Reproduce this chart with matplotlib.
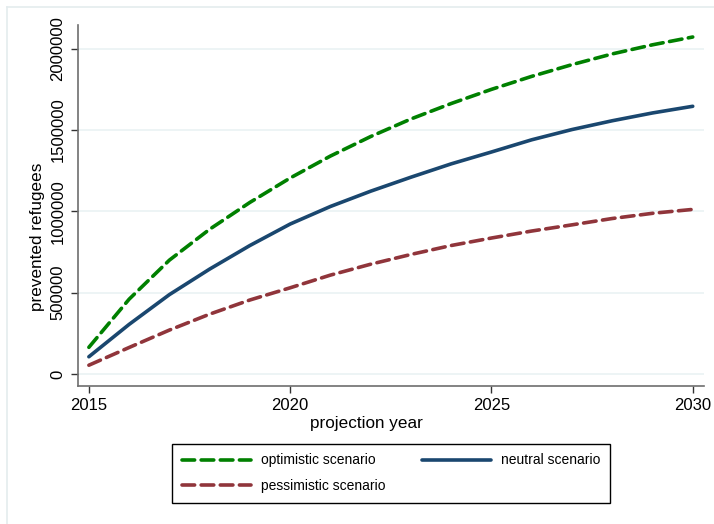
import matplotlib
matplotlib.use('Agg')
import matplotlib.pyplot as plt
from matplotlib.lines import Line2D

plt.rcParams['font.family'] = ['Liberation Sans', 'DejaVu Sans']

years = list(range(2015, 2031))
optimistic = [164000, 460000, 700000, 890000, 1055000, 1205000, 1340000, 1460000,
              1568000, 1663000, 1750000, 1830000, 1902000, 1968000, 2024000, 2072000]
neutral = [106000, 305000, 488000, 645000, 790000, 922000, 1030000, 1124000,
           1210000, 1292000, 1365000, 1440000, 1503000, 1557000, 1605000, 1646000]
pessimistic = [54000, 163000, 270000, 368000, 455000, 530000, 608000, 675000,
               735000, 790000, 836000, 879000, 917000, 956000, 988000, 1012000]

x_ticks = [2015, 2020, 2025, 2030]
y_ticks = [0, 500000, 1000000, 1500000, 2000000]

green = '#008000'
navy = '#1a476f'
maroon = '#90353b'

fig = plt.figure(figsize=(7.14, 5.24), dpi=100)
fig.patch.set_facecolor('white')

# faint outer frame of the graph region
border = '#e4ecee'
fig.add_artist(Line2D([7/714, 7/714], [0, 1 - 7/524], color=border, lw=1.2))
fig.add_artist(Line2D([7/714, 1], [1 - 7/524, 1 - 7/524], color=border, lw=1.2))

ax = fig.add_axes([78/714, 1 - 386/524, 626/714, 361/524])

dash = (3.5, 1.8)
l_opt, = ax.plot(years, optimistic, color=green, lw=2.6, dashes=dash,
                 dash_capstyle='round', label='optimistic scenario')
l_neu, = ax.plot(years, neutral, color=navy, lw=2.6, solid_capstyle='round',
                 label='neutral scenario')
l_pes, = ax.plot(years, pessimistic, color=maroon, lw=2.6, dashes=dash,
                 dash_capstyle='round', label='pessimistic scenario')

ax.set_xlim(2014.73, 2030.28)
ax.set_ylim(-73800, 2145800)
ax.set_xticks(x_ticks)
ax.set_yticks(y_ticks)
ax.set_yticklabels([str(v) for v in y_ticks], rotation=90, va='center')
ax.yaxis.grid(True, color='#eaf2f3', lw=1.2)
ax.set_axisbelow(True)

for side in ['top', 'right']:
    ax.spines[side].set_visible(False)
for side in ['left', 'bottom']:
    ax.spines[side].set_color('#6e6e6e')
    ax.spines[side].set_linewidth(1.2)
ax.tick_params(axis='both', colors='#333333', labelcolor='black', labelsize=12,
               length=5, width=1)
ax.tick_params(axis='x', pad=4)
ax.tick_params(axis='y', pad=4)

ax.set_xlabel('projection year', fontsize=12.3)
ax.set_ylabel('prevented refugees', fontsize=12.3)
ax.xaxis.set_label_coords(0.46, -0.083)
ax.yaxis.set_label_coords(-0.052, 0.413)

leg = fig.legend([l_opt, l_pes, l_neu],
                 ['optimistic scenario', 'pessimistic scenario', 'neutral scenario'],
                 ncol=2, mode='expand', loc='lower left',
                 bbox_to_anchor=(172/714, 1 - 503/524, 438/714, 59/524),
                 borderaxespad=0, fontsize=10, handlelength=5.0, handletextpad=0.7,
                 fancybox=False, framealpha=1, edgecolor='black',
                 borderpad=0.7, labelspacing=0.85, columnspacing=1.5)
leg.get_frame().set_linewidth(1.0)

fig.savefig('out.png', dpi=100, facecolor='white')
